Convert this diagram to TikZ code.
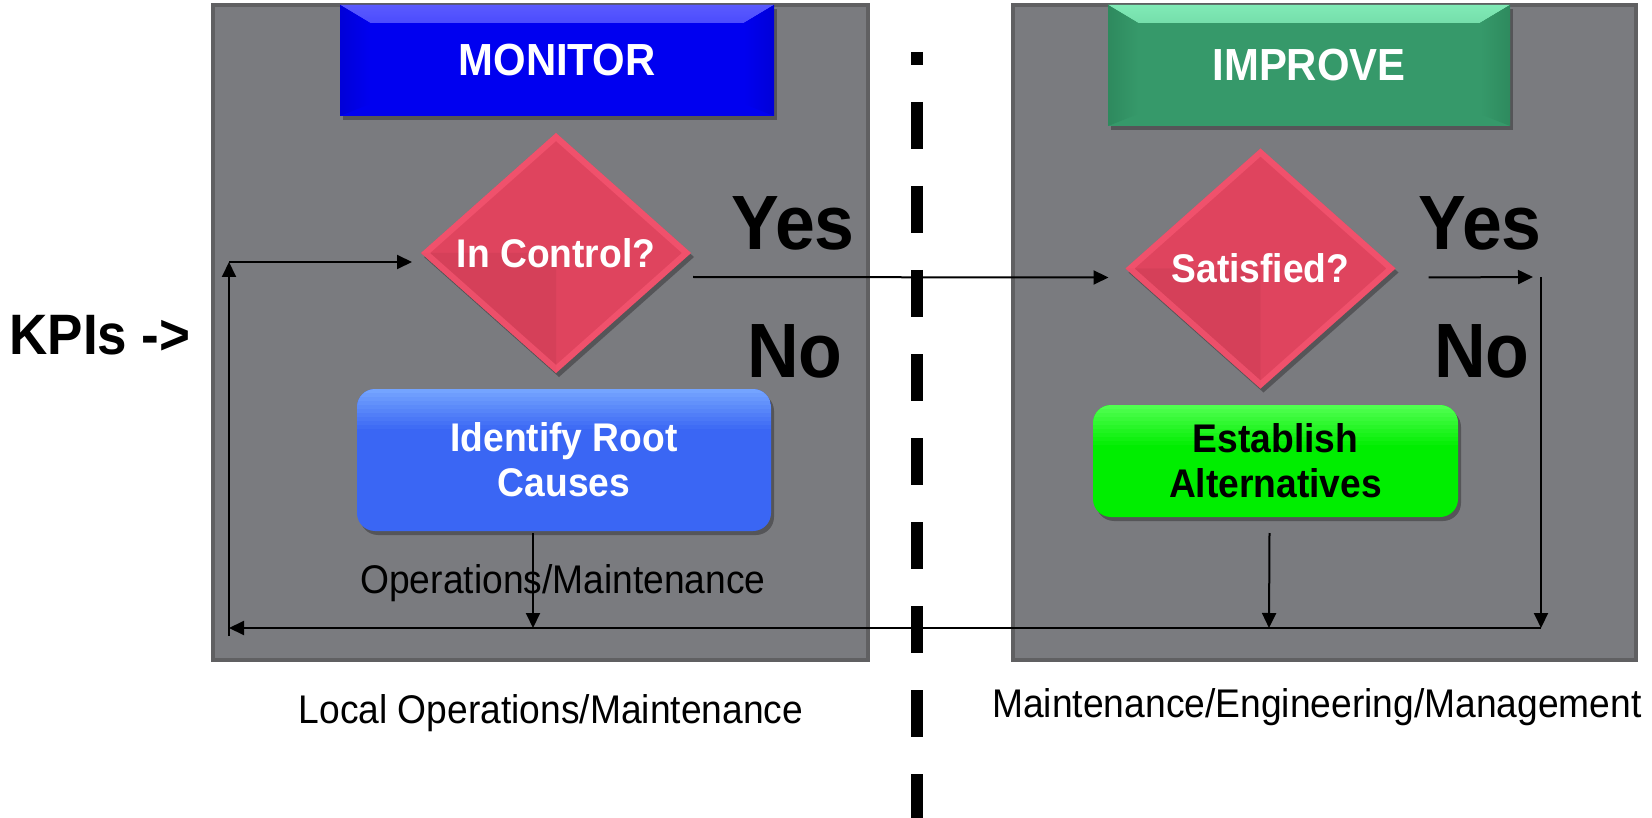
\documentclass[tikz,border=0pt]{standalone}
\usepackage{fontspec}
\setmainfont{Liberation Sans}[FakeStretch=0.93]
\usetikzlibrary{shapes.geometric,shadows,arrows.meta,calc}

\definecolor{panelfill}{HTML}{7A7B7F}
\definecolor{panelline}{HTML}{606062}
\definecolor{monmain}{HTML}{0000F0}
\definecolor{monlight}{HTML}{5A5AFF}
\definecolor{mondark}{HTML}{0000D8}
\definecolor{impmain}{HTML}{36996A}
\definecolor{implight}{HTML}{80EAB6}
\definecolor{impdark}{HTML}{2E8A5E}
\definecolor{decmain}{HTML}{DF445E}
\definecolor{decrim}{HTML}{FF5D78}
\definecolor{rcmain}{HTML}{3A66F4}
\definecolor{rclight}{HTML}{74A4FF}
\definecolor{altmain}{HTML}{00EE00}
\definecolor{altlight}{HTML}{50FF50}

\tikzset{
  panel/.style={fill=panelfill, draw=panelline, line width=4pt},
  shade/.style={drop shadow={shadow xshift=3pt, shadow yshift=-4pt, opacity=0.3, fill=black}},
  titlebox/.style n args={3}{shade, fill=#1, inner sep=0pt, outer sep=0pt,
    text=white, font=\fontsize{45}{50}\selectfont\bfseries,
    path picture={
      \fill[top color=#2, bottom color=#1]
        (path picture bounding box.north west) -- (path picture bounding box.north east)
        -- ([xshift=-30pt,yshift=-18pt]path picture bounding box.north east)
        -- ([xshift=30pt,yshift=-18pt]path picture bounding box.north west) -- cycle;
      \fill[left color=#3, right color=#1]
        (path picture bounding box.north west)
        -- ([xshift=30pt,yshift=-18pt]path picture bounding box.north west)
        -- ([xshift=30pt,yshift=12pt]path picture bounding box.south west)
        -- (path picture bounding box.south west) -- cycle;
      \fill[right color=#3, left color=#1]
        (path picture bounding box.north east)
        -- ([xshift=-30pt,yshift=-18pt]path picture bounding box.north east)
        -- ([xshift=-30pt,yshift=12pt]path picture bounding box.south east)
        -- (path picture bounding box.south east) -- cycle;
    }},
  decision/.style={shape=diamond, shade, fill=decmain, inner sep=0pt, outer sep=0pt,
    minimum width=270pt, minimum height=240pt,
    text=white, font=\fontsize{40}{44}\selectfont\bfseries,
    path picture={
      \fill[decmain!92!black, opacity=0.5]
        (path picture bounding box.west) -- (path picture bounding box.center)
        -- (path picture bounding box.south) -- cycle;
      \draw[decrim, line width=12pt, opacity=0.55]
        (path picture bounding box.west) -- (path picture bounding box.north)
        -- (path picture bounding box.east) -- (path picture bounding box.south) -- cycle;
    }},
  actbox/.style n args={3}{shade, fill=#1, rounded corners=18pt, inner sep=0pt, outer sep=0pt,
    align=center, text=#3, font=\fontsize{40}{45}\selectfont\bfseries,
    path picture={
      \foreach \k [evaluate=\k as \op using {1-\k/10}] in {0,...,9}
        \fill[#2, opacity=\op, sharp corners]
          ([yshift={-\k*4pt}]path picture bounding box.north west) rectangle
          ([yshift={-(\k+1)*4pt}]path picture bounding box.north east);
    }},
  bigword/.style={anchor=base, inner sep=0pt, font=\fontsize{77}{80}\selectfont\bfseries},
  caption/.style={anchor=base, inner sep=0pt, font=\fontsize{40}{45}\selectfont},
  arr/.style={line width=2pt, -{Triangle[length=15pt,width=14pt]}},
  divider/.style={line width=12.5pt, dash pattern=on 47pt off 37pt, dash phase=34pt}
}

\begin{document}
\begin{tikzpicture}[x=1pt, y=-1pt]
  \useasboundingbox (0,0) rectangle (1652,818);

  % two swim panels
  \draw[panel] (213,5) rectangle (868,660);
  \draw[panel] (1013,5) rectangle (1636,660);

  % dashed divider between the panels
  \coordinate (divtop) at (917,52);
  \coordinate (divbot) at (917,818);
  \draw[divider] (divtop) -- (divbot);

  % headers
  \node[titlebox={monmain}{monlight}{mondark}, minimum width=434pt, minimum height=111pt]
    (mon) at (557,60.5) {MONITOR};
  \node[titlebox={impmain}{implight}{impdark}, minimum width=402pt, minimum height=121pt]
    (imp) at (1309,65.5) {IMPROVE};

  % decisions
  \node[decision] (ic) at (556,253) {In Control?};
  \node[decision] (sat) at (1260.5,268.5) {Satisfied?};

  % actions
  \node[actbox={rcmain}{rclight}{white}, minimum width=414pt, minimum height=142pt]
    (ident) at (564,460) {Identify Root\\Causes};
  \node[actbox={altmain}{altlight}{black}, minimum width=365pt, minimum height=112pt]
    (est) at (1275.5,461) {Establish\\Alternatives};

  % branch labels
  \node[bigword] (yes1) at (793,250) {Yes};
  \node[bigword] (no1) at (795,377) {No};
  \node[bigword] (yes2) at (1480,250) {Yes};
  \node[bigword] (no2) at (1482,377) {No};

  \node[anchor=base, inner sep=0pt, font=\fontsize{57}{60}\selectfont\bfseries]
    (kpi) at (100,355) {KPIs ->};

  \node[caption] (opm) at (563,593) {Operations/Maintenance};
  \node[caption] (loc) at (551,723) {Local Operations/Maintenance};
  \node[caption] (mem) at (1317,717) {Maintenance/Engineering/Management};

  % feedback bus and loop
  \coordinate (busL) at (229,628);
  \coordinate (busR) at (1541,628);
  \coordinate (loopT) at (229,262);
  \coordinate (yesR) at (1541,277);
  \coordinate (j1) at (533,628);
  \coordinate (j2) at (1269,628);

  \draw[arr] (busR) -- (busL);
  \draw[arr] ([yshift=-8pt]busL) -- (loopT);
  \draw[arr] (loopT) -- ([shift={(-9,9)}]ic.west);
  \draw[arr] ([shift={(2,24)}]ic.east) -- ([shift={(-17,9)}]sat.west);
  \draw[arr] ([shift={(33,9)}]sat.east) -- ([xshift=-8pt]yesR);
  \draw[arr] (yesR) -- (busR);
  \draw[arr] ([shift={(-31,2)}]ident.south) -- (j1);
  \draw[arr] ([shift={(-6,16)}]est.south) -- (j2);
\end{tikzpicture}
\end{document}
